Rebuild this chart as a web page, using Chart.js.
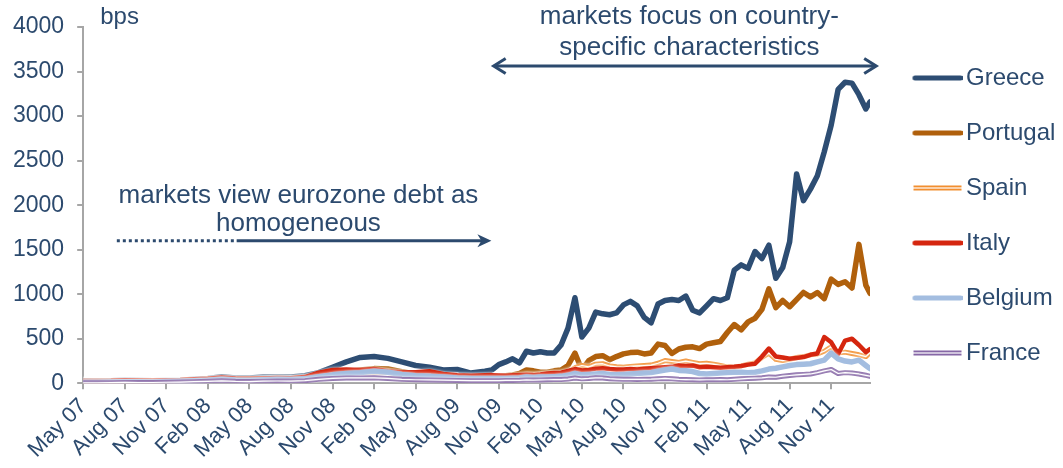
<!DOCTYPE html>
<html><head><meta charset="utf-8">
<script src="https://cdn.jsdelivr.net/npm/chart.js@4.4.0/dist/chart.umd.min.js"></script>
<style>html,body{margin:0;padding:0;background:#fff;}#wrap{width:1063px;height:468px;position:relative;}</style>
</head><body><div id="wrap"><canvas id="c"></canvas></div>
<script>
// x positions: months since May 2007
const months = [0,1,2,3,4,5,6,7,8,9,10,11,12,13,14,15,16,17,18,19,20,21,22,23,24,25,26,27,28,29,
29.5,30,30.5,31,31.5,32,32.5,33,33.5,34,34.5,35,35.5,36,36.5,37,37.5,38,38.5,39,39.5,40,40.5,41,41.5,42,42.5,43,43.5,44,44.5,45,45.5,46,46.5,47,47.5,48,48.5,49,49.5,50,50.5,51,51.5,52,52.5,53,53.5,54,54.5,55,55.5,56,56.5,56.8];

const greece = [28,27,30,35,33,30,32,35,45,55,75,60,60,70,72,70,85,120,180,240,290,300,280,240,200,180,150,155,115,135,
150,210,240,275,230,360,340,355,340,340,430,620,960,520,620,800,780,770,790,880,920,870,740,680,890,930,940,930,980,820,790,870,950,930,960,1270,1330,1290,1480,1400,1550,1180,1300,1590,2350,2050,2180,2330,2600,2900,3300,3380,3370,3240,3080,3160];

const portugal = [20,20,22,28,26,24,26,30,38,45,55,45,45,50,55,50,60,85,105,130,150,165,160,130,105,95,80,75,70,70,
72,75,85,95,110,150,140,125,125,140,150,200,340,150,255,300,310,265,300,330,345,350,330,340,440,425,335,385,405,410,390,440,455,470,570,660,600,690,730,830,1060,850,930,860,940,1020,970,1020,950,1170,1110,1140,1070,1560,1100,1010];

const spain = [18,18,20,25,24,24,28,32,40,45,55,45,45,52,55,55,65,85,100,115,125,130,120,100,95,95,80,75,65,65,
65,70,72,75,80,95,90,100,105,110,110,125,175,200,185,215,220,195,185,180,190,195,200,205,225,255,245,235,250,235,220,225,215,200,185,180,195,215,230,290,340,270,255,270,290,300,320,330,360,410,340,350,335,320,300,345];

const italy = [25,25,28,35,32,30,35,38,45,50,65,55,50,55,60,58,70,120,150,155,150,160,135,125,125,135,105,90,85,90,
92,88,85,90,92,95,92,100,110,115,120,140,160,145,150,165,170,160,155,155,160,155,165,170,175,180,185,200,195,200,180,185,180,175,180,185,195,210,220,300,390,300,290,275,285,295,320,335,520,460,330,480,500,430,350,385];

const belgium = [12,12,14,18,17,16,20,24,30,35,45,38,35,40,45,42,50,75,95,110,120,135,125,100,85,80,70,60,55,55,
55,55,55,58,60,70,65,70,72,75,78,90,110,95,100,105,110,100,95,100,105,110,115,120,135,150,160,145,140,132,110,105,110,115,120,125,125,120,125,140,160,170,185,200,210,215,220,240,260,340,275,250,240,260,200,165];

const france = [6,6,7,10,9,9,12,14,18,22,28,22,20,24,26,25,30,45,55,60,60,62,55,45,40,38,35,32,30,30,
30,30,32,33,34,38,36,38,40,42,42,48,60,50,55,62,60,52,48,45,45,44,45,46,50,55,50,45,42,40,38,40,40,42,40,45,50,55,58,62,70,68,80,88,95,100,105,120,140,155,110,120,115,105,90,80];

const tickValues = [0,3,6,9,12,15,18,21,24,27,30,33,36,39,42,45,48,51,54];
const tickLabels = ['May 07','Aug 07','Nov 07','Feb 08','May 08','Aug 08','Nov 08','Feb 09','May 09','Aug 09','Nov 09','Feb 10','May 10','Aug 10','Nov 10','Feb 11','May 11','Aug 11','Nov 11'];
const seriesNames = ['Greece','Portugal','Spain','Italy','Belgium','France'];

const FONT = '"Liberation Sans", Arial, sans-serif';
const TEXT = '#2c4a6e';
const AXIS = '#a6a6a6';

const colors = {Greece:'#2d4d73', Portugal:'#b0600c', Spain:'#f28f30', Italy:'#d5260f', Belgium:'#a3bde0', France:'#8667a6'};

function pts(arr){ return months.map((m,i)=>({x:m, y:arr[i]})); }

function ds(label, arr, color, width, order){
  return {label, data: pts(arr), borderColor: color, borderWidth: width, pointRadius: 0, tension: 0,
          borderJoinStyle: 'round', borderCapStyle: 'round', fill: false, order};
}

const datasets = [
  ds('Greece', greece, colors.Greece, 5.5, 10),
  ds('Portugal', portugal, colors.Portugal, 5.5, 9),
  ds('Spain', spain, colors.Spain, 5, 8),
  ds('Spain-inner', spain, '#ffffff', 1.2, 7),
  ds('Italy', italy, colors.Italy, 4.5, 6),
  ds('Belgium', belgium, colors.Belgium, 5.5, 5),
  ds('France', france, colors.France, 5, 4),
  ds('France-inner', france, '#ffffff', 1.2, 3)
];

function swatch(color, dbl){
  const c = document.createElement('canvas');
  c.width = 70; c.height = 10;
  const g = c.getContext('2d');
  if (dbl){
    g.fillStyle = color; g.fillRect(21, 2.5, 48, 5);
    g.fillStyle = '#fff'; g.fillRect(21, 4.4, 48, 1.2);
  } else {
    g.strokeStyle = color; g.lineWidth = 5; g.lineCap = 'round';
    g.beginPath(); g.moveTo(22.5, 5); g.lineTo(68, 5); g.stroke();
  }
  return c;
}

const glow = {
  id: 'glow',
  beforeDatasetDraw(chart){ const ctx = chart.ctx; ctx.save(); ctx.shadowColor = 'rgba(255,255,255,0.95)'; ctx.shadowBlur = 3; },
  afterDatasetDraw(chart){ chart.ctx.restore(); }
};

const notes = {
  id: 'notes',
  afterDraw(chart){
    const ctx = chart.ctx, xs = chart.scales.x, ys = chart.scales.y;
    const X = v => xs.getPixelForValue(v), Y = v => ys.getPixelForValue(v);
    ctx.save();
    ctx.strokeStyle = TEXT; ctx.fillStyle = TEXT; ctx.lineWidth = 3;
    // lower arrow
    const y1 = Y(1601);
    ctx.setLineDash([3,3]);
    ctx.beginPath(); ctx.moveTo(X(2.43), y1); ctx.lineTo(X(11.08), y1); ctx.stroke();
    ctx.setLineDash([]);
    const tip1 = X(29.47);
    ctx.beginPath(); ctx.moveTo(X(11.08), y1); ctx.lineTo(tip1 - 8, y1); ctx.stroke();
    ctx.beginPath(); ctx.moveTo(tip1, y1); ctx.lineTo(tip1 - 14, y1 - 6.5); ctx.lineTo(tip1 - 10, y1); ctx.lineTo(tip1 - 14, y1 + 6.5); ctx.closePath(); ctx.fill();
    // upper double arrow
    const y2 = Y(3563), a = X(29.56), b = X(57.32);
    ctx.beginPath(); ctx.moveTo(a + 2, y2); ctx.lineTo(b - 2, y2); ctx.stroke();
    ctx.lineJoin = 'miter';
    ctx.beginPath(); ctx.moveTo(a + 13, y2 - 7.5); ctx.lineTo(a + 1, y2); ctx.lineTo(a + 13, y2 + 7.5); ctx.stroke();
    ctx.beginPath(); ctx.moveTo(b - 13, y2 - 7.5); ctx.lineTo(b - 1, y2); ctx.lineTo(b - 13, y2 + 7.5); ctx.stroke();
    // texts
    ctx.textBaseline = 'middle'; ctx.textAlign = 'center';
    ctx.font = '26px ' + FONT;
    ctx.fillText('markets view eurozone debt as', X(15.54), Y(2102));
    ctx.fillText('homogeneous', X(15.54), Y(1785));
    ctx.fillText('markets focus on country-', X(43.76), Y(4113));
    ctx.fillText('specific characteristics', X(43.76), Y(3763));
    ctx.textAlign = 'left';
    ctx.font = '24px ' + FONT;
    ctx.fillText('bps', X(1.23), Y(4107));
    ctx.restore();
  }
};

new Chart(document.getElementById('c'), {
  type: 'line',
  data: { datasets },
  plugins: [glow, notes],
  options: {
    responsive: true, maintainAspectRatio: false, animation: false,
    layout: { padding: { top: 27, left: 0, right: 0, bottom: 1 } },
    plugins: {
      tooltip: { enabled: false },
      legend: {
        position: 'right', align: 'start', maxWidth: 193,
        title: { display: true, text: '', padding: 0, font: { size: 8, lineHeight: 1 } },
        labels: {
          usePointStyle: true, pointStyleWidth: 53, padding: 31,
          font: { size: 24, family: FONT }, color: TEXT,
          generateLabels: () => seriesNames.map((n, i) => ({
            text: n, fillStyle: colors[n], strokeStyle: colors[n], lineWidth: 0,
            pointStyle: swatch(colors[n], n === 'Spain' || n === 'France'),
            hidden: false, datasetIndex: i, fontColor: TEXT
          }))
        }
      }
    },
    scales: {
      x: {
        type: 'linear', min: 0, max: 56.8,
        afterBuildTicks: s => { s.ticks = tickValues.map(v => ({ value: v })); },
        afterFit: s => { s.paddingLeft = 0; },
        ticks: { autoSkip: false, minRotation: 45, maxRotation: 45, padding: 4,
                 font: { size: 22, family: FONT }, color: TEXT,
                 callback: (v, i) => tickLabels[i] },
        grid: { drawOnChartArea: false, drawTicks: true, tickLength: 6, color: AXIS, lineWidth: 2 },
        border: { color: AXIS, width: 2 }
      },
      y: {
        min: 0, max: 4000,
        ticks: { stepSize: 500, padding: 13, font: { size: 23, family: FONT }, color: TEXT,
                 callback: v => String(v) },
        grid: { drawOnChartArea: false, drawTicks: true, tickLength: 6, color: AXIS, lineWidth: 2 },
        border: { color: AXIS, width: 2 }
      }
    }
  }
});
</script>
</body></html>
